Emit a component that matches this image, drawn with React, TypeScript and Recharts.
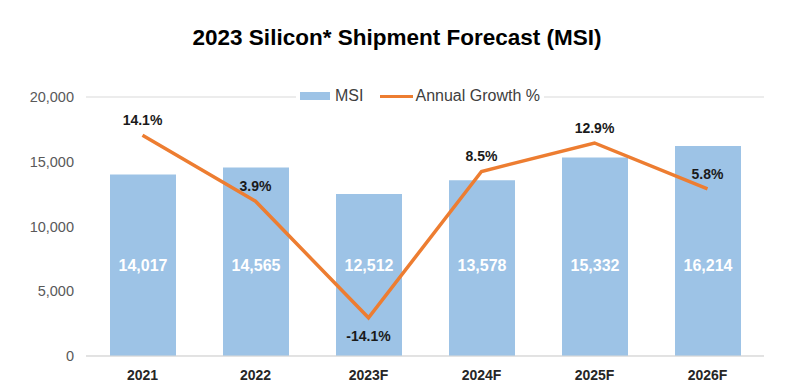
import React from 'react';
import { ComposedChart, Bar, Line, XAxis, YAxis, CartesianGrid, LabelList } from 'recharts';

const categories = ['2021', '2022', '2023F', '2024F', '2025F', '2026F'];
const msiValues = [14017, 14565, 12512, 13578, 15332, 16214];
const growthValues = [14.1, 3.9, -14.1, 8.5, 12.9, 5.8];
const yTicks = [0, 5000, 10000, 15000, 20000];

const data = categories.map((c, i) => ({ year: c, msi: msiValues[i], growth: growthValues[i] }));

const FONT = '"Liberation Sans", Arial, sans-serif';

const BarLabel = (props: any) => {
  const { x, y, width, height, value } = props;
  return (
    <text
      x={x + width / 2}
      y={y + height - 91}
      textAnchor="middle"
      dominantBaseline="central"
      fill="#ffffff"
      fontWeight="bold"
      fontSize={16}
      fontFamily={FONT}
    >
      {Number(value).toLocaleString('en-US')}
    </text>
  );
};

const LineLabel = (props: any) => {
  const { x, y, value } = props;
  const neg = value < 0;
  return (
    <text
      x={x}
      y={neg ? y + 18 : y - 15}
      textAnchor="middle"
      dominantBaseline="central"
      fill="#1a1a1a"
      fontWeight="bold"
      fontSize={14}
      fontFamily={FONT}
    >
      {value.toFixed(1) + '%'}
    </text>
  );
};

export default function App() {
  return (
    <div style={{ position: 'relative', width: 796, height: 379, fontFamily: FONT, background: '#fff' }}>
      <div
        style={{
          position: 'absolute',
          top: 17,
          left: 0,
          width: 778,
          textAlign: 'center',
          fontSize: 22.5,
          lineHeight: '26px',
          fontWeight: 'bold',
          color: '#000',
          zIndex: 2,
        }}
      >
        2023 Silicon* Shipment Forecast (MSI)
      </div>
      <ComposedChart
        width={796}
        height={379}
        data={data}
        margin={{ top: 89, right: 40, bottom: 1, left: 18 }}
        style={{ fontFamily: FONT }}
      >
        <CartesianGrid vertical={false} stroke="#D9D9D9" />
        <XAxis
          dataKey="year"
          tickLine={false}
          tickSize={0}
          tickMargin={14}
          height={30}
          axisLine={{ stroke: '#D9D9D9' }}
          tick={{ fill: '#262626', fontSize: 14, fontWeight: 'bold', fontFamily: FONT }}
        />
        <YAxis
          yAxisId="left"
          domain={[0, 20000]}
          ticks={yTicks}
          width={60}
          tickLine={false}
          tickSize={0}
          tickMargin={12}
          axisLine={false}
          tickFormatter={(v: number) => v.toLocaleString('en-US')}
          tick={{ fill: '#595959', fontSize: 14.5, fontFamily: FONT }}
        />
        <YAxis yAxisId="right" orientation="right" domain={[-20, 20]} hide />
        <Bar yAxisId="left" dataKey="msi" name="MSI" fill="#9DC3E6" barSize={66} isAnimationActive={false}>
          <LabelList dataKey="msi" content={BarLabel} />
        </Bar>
        <Line
          yAxisId="right"
          dataKey="growth"
          name="Annual Growth %"
          stroke="#ED7D31"
          strokeWidth={3.5}
          dot={false}
          activeDot={false}
          isAnimationActive={false}
        >
          <LabelList dataKey="growth" content={LineLabel} />
        </Line>
      </ComposedChart>
      <div
        style={{
          position: 'absolute',
          top: 79,
          left: 288,
          display: 'flex',
          alignItems: 'center',
          background: '#fff',
          padding: '0 4px',
          fontSize: 16,
          color: '#404040',
          height: 18,
          zIndex: 2,
        }}
      >
        <span style={{ display: 'inline-block', width: 30, height: 8, background: '#9DC3E6', marginRight: 5 }} />
        <span>MSI</span>
        <span style={{ display: 'inline-block', width: 33, height: 3, background: '#ED7D31', margin: '0 2px 0 17px' }} />
        <span>Annual Growth %</span>
      </div>
    </div>
  );
}
